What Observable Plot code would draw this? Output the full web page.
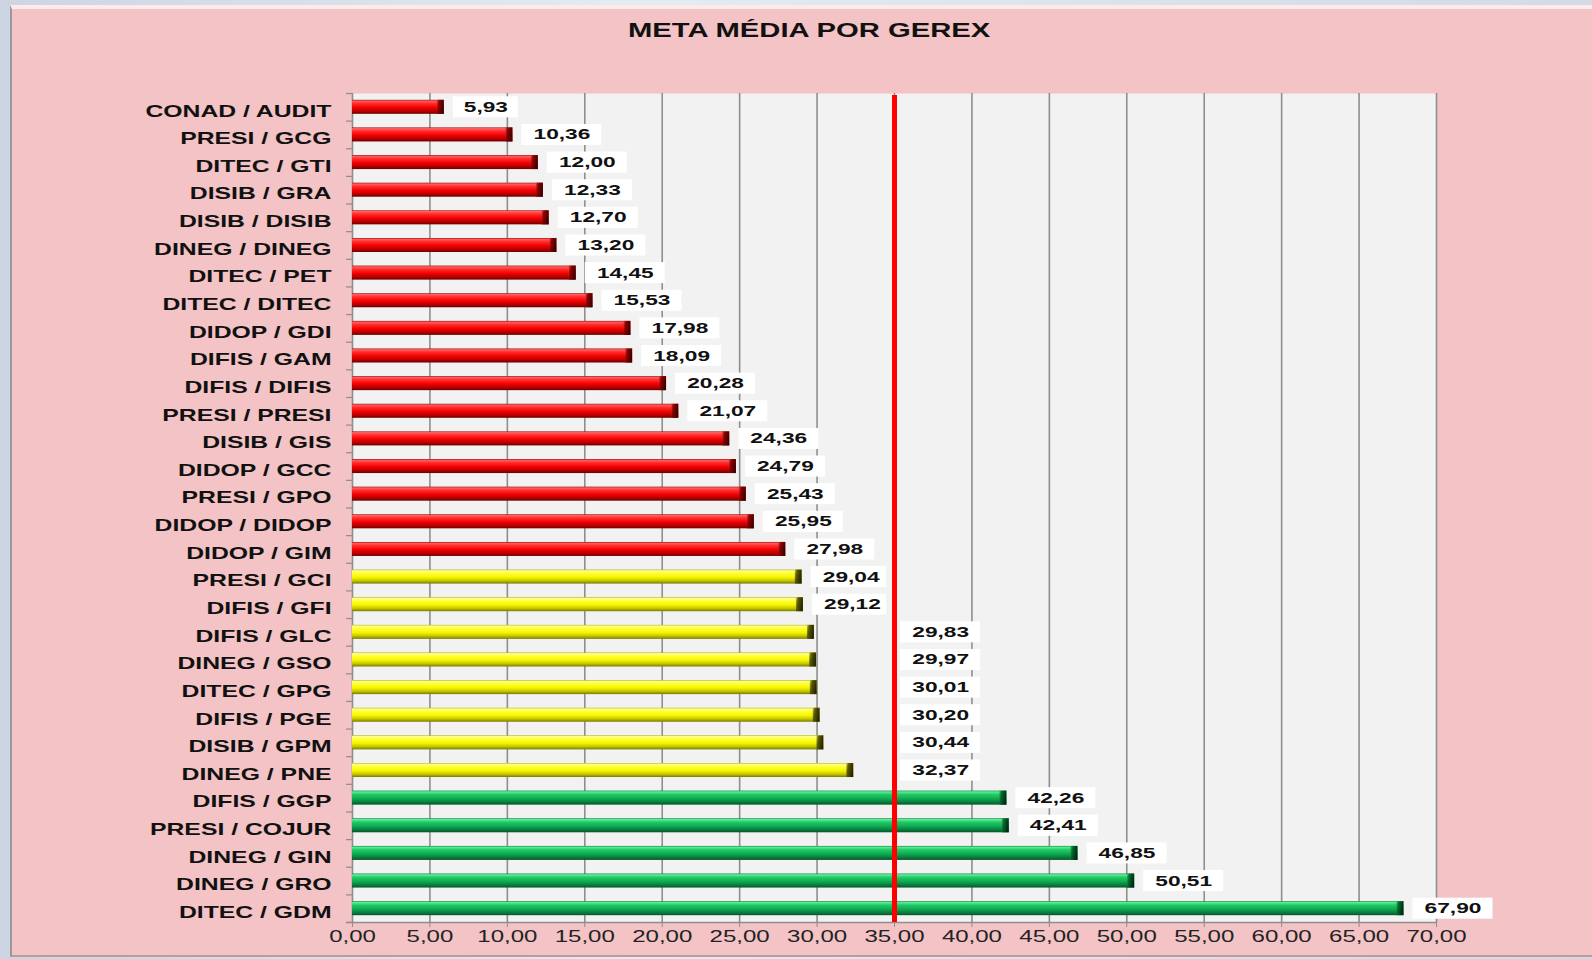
<!DOCTYPE html>
<html><head><meta charset="utf-8">
<script src="https://cdn.jsdelivr.net/npm/d3@7"></script>
<script src="https://cdn.jsdelivr.net/npm/@observablehq/plot@0.6"></script>
<style>
html,body{margin:0;padding:0;width:1592px;height:959px;overflow:hidden;background:linear-gradient(90deg,#cdd5e3,#e6eaf1 40%,#d3daE6);font-family:"Liberation Sans",Arial,sans-serif;}
#panel{position:absolute;left:10px;top:5px;width:1582px;height:952px;background:#f3c3c5;border-left:2px solid #9a9a9a;border-top:4px solid #fdeaea;border-bottom:2px solid #b49ea0;box-sizing:border-box;}
#title{position:absolute;left:0;top:20px;width:1619px;text-align:center;font-weight:bold;font-size:20px;line-height:20px;color:#111;}
#title span{display:inline-block;transform:scaleX(1.46);}
#chart{position:absolute;left:0;top:50px;}
</style></head><body>
<div id="panel"></div>
<div id="title"><span>META MÉDIA POR GEREX</span></div>
<div id="chart"></div>
<script>
const gerex = ["CONAD / AUDIT","PRESI / GCG","DITEC / GTI","DISIB / GRA","DISIB / DISIB","DINEG / DINEG","DITEC / PET","DITEC / DITEC","DIDOP / GDI","DIFIS / GAM","DIFIS / DIFIS","PRESI / PRESI","DISIB / GIS","DIDOP / GCC","PRESI / GPO","DIDOP / DIDOP","DIDOP / GIM","PRESI / GCI","DIFIS / GFI","DIFIS / GLC","DINEG / GSO","DITEC / GPG","DIFIS / PGE","DISIB / GPM","DINEG / PNE","DIFIS / GGP","PRESI / COJUR","DINEG / GIN","DINEG / GRO","DITEC / GDM"];
const metas = [5.93,10.36,12.00,12.33,12.70,13.20,14.45,15.53,17.98,18.09,20.28,21.07,24.36,24.79,25.43,25.95,27.98,29.04,29.12,29.83,29.97,30.01,30.20,30.44,32.37,42.26,42.41,46.85,50.51,67.90];
const faixas = ["vermelho","vermelho","vermelho","vermelho","vermelho","vermelho","vermelho","vermelho","vermelho","vermelho","vermelho","vermelho","vermelho","vermelho","vermelho","vermelho","vermelho","amarelo","amarelo","amarelo","amarelo","amarelo","amarelo","amarelo","amarelo","verde","verde","verde","verde","verde"];
const xTicks = [0,5,10,15,20,25,30,35,40,45,50,55,60,65,70];
const linhaMeta = 35;

const fmt = v => v.toFixed(2).replace(".", ",");
const W = 1592, H = 909, mt = 43, mb = 37, ml = 352, mr = 156;
const xMax = 70;
const k = (W - ml - mr) / xMax;
const band = (H - mt - mb) / gerex.length;
const ins = (band - 14) / 2;

const dados = gerex.map((g, i) => ({g, v: metas[i], s: faixas[i]}));
const rotulos = dados.map(d => {
  const t = fmt(d.v);
  const w = (15 * t.length + 5) / k;
  let x1 = d.v + 9 / k, x2 = x1 + w, xc = x1 + w / 2;
  if (d.v < linhaMeta && x2 > linhaMeta + 0.3) { x1 = linhaMeta + 0.4; x2 = x1 + w; xc = x1 + w / 2; }
  else if (d.v < linhaMeta && x2 > linhaMeta - 0.5) { x2 = linhaMeta - 0.5; }
  return {g: d.g, t, x1, x2, xc};
});

const defsMark = () => {
  const g = document.createElementNS("http://www.w3.org/2000/svg", "g");
  const grad = (id, stops, horiz) => `<linearGradient id="${id}" x1="0" y1="0" x2="${horiz ? 1 : 0}" y2="${horiz ? 0.35 : 1}">${stops.map(([o,c]) => `<stop offset="${o}" stop-color="${c}"/>`).join("")}</linearGradient>`;
  g.innerHTML = `<defs>
  ${grad("grad-vermelho", [[0,"#a00000"],[0.08,"#ff6060"],[0.28,"#ff2a2a"],[0.55,"#f40000"],[0.8,"#b80000"],[1,"#6a0000"]])}
  ${grad("grad-amarelo", [[0,"#b5b500"],[0.08,"#ffff90"],[0.28,"#ffff30"],[0.55,"#f5f500"],[0.8,"#c4c400"],[1,"#7a7a00"]])}
  ${grad("grad-verde", [[0,"#077a33"],[0.08,"#5cf09a"],[0.28,"#22c866"],[0.55,"#10ad52"],[0.8,"#0a8040"],[1,"#05552a"]])}
  ${grad("cap-vermelho", [[0,"#e04040"],[0.35,"#900000"],[1,"#400000"]], true)}
  ${grad("cap-amarelo", [[0,"#d0d040"],[0.35,"#5a5a00"],[1,"#262600"]], true)}
  ${grad("cap-verde", [[0,"#30b060"],[0.35,"#006a2c"],[1,"#002a12"]], true)}
  </defs>`;
  return g;
};

const grid = "#8e8e8e";
const svg = Plot.plot({
  width: W, height: H,
  marginTop: mt, marginBottom: mb, marginLeft: ml, marginRight: mr,
  style: {background: "transparent", fontFamily: "'Liberation Sans', Arial, sans-serif"},
  x: {domain: [0, xMax]},
  y: {domain: gerex, padding: 0, round: false},
  color: {type: "identity"},
  marks: [
    defsMark,
    Plot.frame({fill: "#f2f2f2", stroke: null}),
    Plot.ruleX(xTicks.filter(t => t > 0), {stroke: grid, strokeWidth: 1.6}),
    Plot.ruleX([0], {stroke: grid, strokeWidth: 1.6}),
    Plot.ruleY([gerex[gerex.length - 1]], {y: d => d, x1: -6 / k, x2: xMax, dy: band / 2, stroke: grid, strokeWidth: 1.6}),
    Plot.ruleY(gerex, {y: d => d, x1: -6 / k, x2: 0, dy: band / 2, stroke: grid, strokeWidth: 1.2}),
    Plot.ruleY([gerex[0]], {y: d => d, x1: -6 / k, x2: 0, dy: -band / 2, stroke: grid, strokeWidth: 1.2}),
    Plot.barX(dados, {x1: 0, x2: "v", y: "g", fill: d => `url(#grad-${d.s})`, insetTop: ins, insetBottom: ins}),
    Plot.barX(dados, {x1: d => d.v - 7 / k, x2: "v", y: "g", fill: d => `url(#cap-${d.s})`, insetTop: ins, insetBottom: ins}),
    Plot.ruleX([linhaMeta], {stroke: "#ff0000", strokeWidth: 5, insetTop: 2}),
    Plot.barX(rotulos, {x1: "x1", x2: "x2", y: "g", fill: "#ffffff", insetTop: 3.3, insetBottom: 3.3}),
    Plot.text(rotulos, {x: "xc", y: "g", text: "t", fontSize: 14, fontWeight: "bold", fill: "#111"}),
    Plot.axisX({ticks: xTicks, tickSize: 5, tickPadding: 3, tickFormat: fmt, fontSize: 16, stroke: grid, fill: "#222", label: null}),
    Plot.axisY({tickSize: 0, tickPadding: 21, fontSize: 16.5, fontWeight: "bold", fill: "#111", dy: 4, label: null})
  ]
});
document.getElementById("chart").append(svg);

function esticar(sel, f) {
  svg.querySelectorAll(sel).forEach(t => {
    const L = t.getComputedTextLength();
    t.setAttribute("textLength", (L * f).toFixed(1));
    t.setAttribute("lengthAdjust", "spacingAndGlyphs");
  });
}
esticar('g[aria-label="y-axis tick label"] text', 1.5);
esticar('g[aria-label="x-axis tick label"] text', 1.5);
esticar('g[aria-label="text"] text', 1.62);
</script>
</body></html>
